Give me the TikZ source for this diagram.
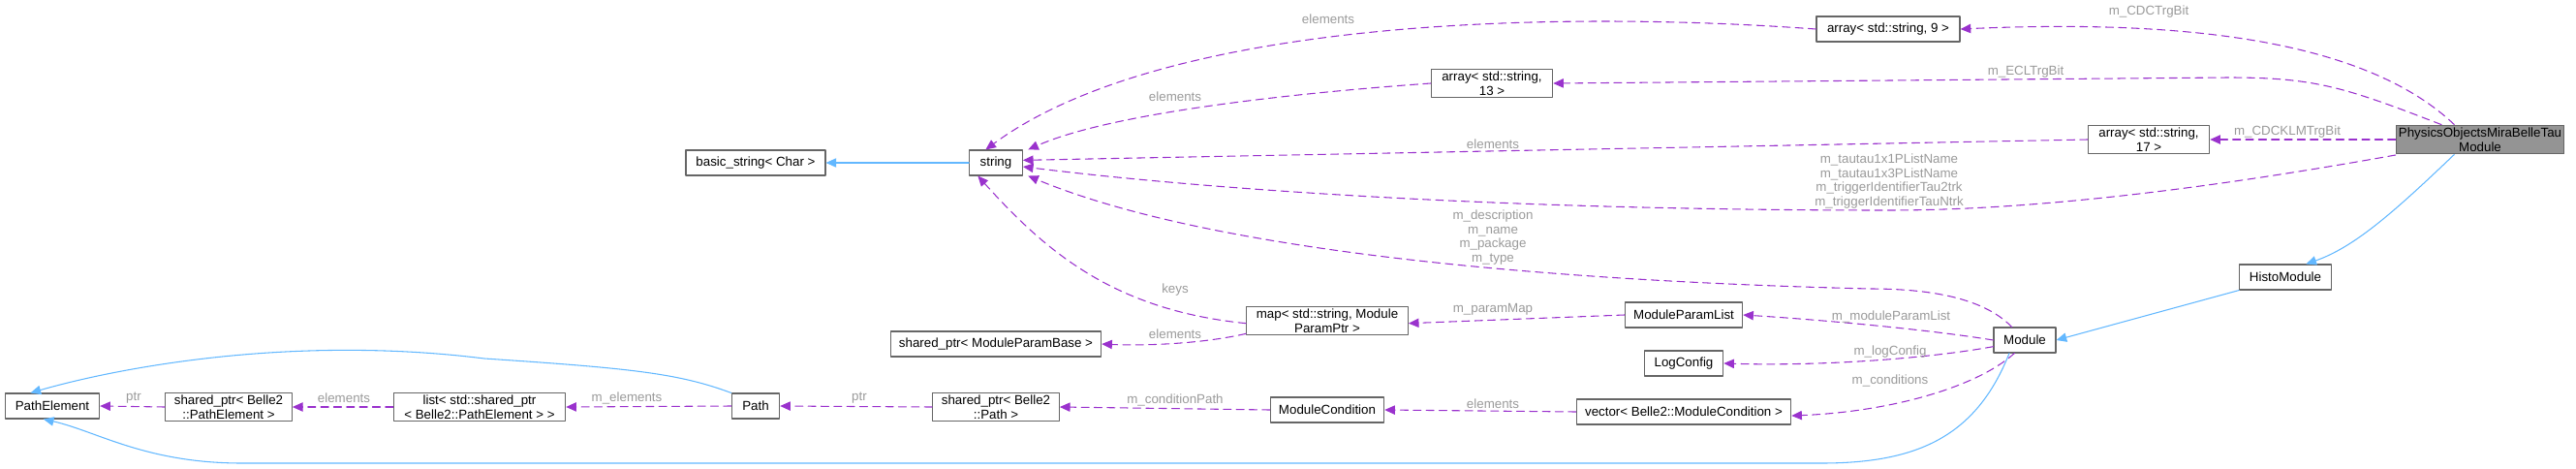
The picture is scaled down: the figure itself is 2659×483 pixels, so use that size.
\documentclass[tikz,border=0pt]{standalone}
\usepackage{fontspec}
\setmainfont{Liberation Sans}
\usetikzlibrary{arrows.meta,positioning}
\definecolor{edgepurple}{HTML}{9A32CD}
\definecolor{edgeblue}{HTML}{63B8FF}
\definecolor{lblgray}{HTML}{9A9A9A}
\definecolor{boxgray}{HTML}{666666}
\tikzset{every picture/.style={line cap=round, line join=round}}
\tikzset{cls/.style={draw=boxgray, fill=white, rectangle, thick, inner sep=2pt,
  minimum height=19.5pt, minimum width=#1, align=center, font=\fontsize{10}{11}\selectfont}}
\tikzset{use/.style={draw=edgepurple, dashed, dash pattern=on 6pt off 4pt, thick,
  -{Triangle[length=8pt,width=7pt]}}}
\tikzset{inh/.style={draw=edgeblue, thick, -{Triangle[length=8pt,width=7pt]}}}
\tikzset{lbl/.style={text=lblgray, font=\fontsize{10}{11}\selectfont, align=center, inner sep=1pt}}
\begin{document}
\begin{tikzpicture}[x=0.75pt, y=-0.75pt]
  \useasboundingbox (0,0) rectangle (2659,483);
  % classes
  \node[cls=72pt, fill=boxgray!70] (phys) at (2560,144) {PhysicsObjectsMiraBelleTau\\Module};
  \node[cls=111pt] (arr9)   at (1949,30)  {array< std::string, 9 >};
  \node[cls=94pt]  (arr13)  at (1540,86)  {array< std::string,\\13 >};
  \node[cls=94pt]  (arr17)  at (2218,144) {array< std::string,\\17 >};
  \node[cls=41pt]  (str)    at (1028,168) {string};
  \node[cls=108pt] (bstr)   at (780,168)  {basic\_string< Char >};
  \node[cls=71pt]  (histo)  at (2359,286) {HistoModule};
  \node[cls=48pt]  (mod)    at (2090,351) {Module};
  \node[cls=91pt]  (mpl)    at (1738,325) {ModuleParamList};
  \node[cls=61pt]  (logc)   at (1738,375) {LogConfig};
  \node[cls=166pt] (vec)    at (1738,425) {vector< Belle2::ModuleCondition >};
  \node[cls=125pt] (map)    at (1370,331) {map< std::string, Module\\ParamPtr >};
  \node[cls=163pt] (spmpb)  at (1028,355) {shared\_ptr< ModuleParamBase >};
  \node[cls=88pt]  (mcond)  at (1370,423) {ModuleCondition};
  \node[cls=98pt]  (sppath) at (1028,420) {shared\_ptr< Belle2\\::Path >};
  \node[cls=37pt]  (path)   at (780,419)  {Path};
  \node[cls=133pt] (lst)    at (495,420)  {list< std::shared\_ptr\\< Belle2::PathElement > >};
  \node[cls=98pt]  (sppe)   at (236,420)  {shared\_ptr< Belle2\\::PathElement >};
  \node[cls=73pt]  (pelem)  at (54,419)   {PathElement};

  % members of PhysicsObjectsMiraBelleTauModule
  \draw[use] ([xshift=-20pt]phys.north) .. controls (2440,40) and (2250,20) .. (arr9.east);
  \draw[use] ([xshift=-30pt]phys.north) .. controls (2420,90) and (2390,80) .. (2300,80)
             -- (arr13.east);
  \draw[use] (phys.west) -- (arr17.west -| arr17.east);
  \draw[use] ([yshift=-12pt]phys.west) .. controls (2250,200) and (2080,217) .. (1950,217)
             .. controls (1500,217) and (1200,190) .. ([yshift=-3pt]str.east);
  \draw[inh] ([xshift=-20pt]phys.south) .. controls (2470,220) and (2430,255) .. ([xshift=16pt]histo.north);
  \draw[inh] (histo.south west) -- (mod.east);

  % string elements
  \draw[use] (arr9.west) .. controls (1600,10) and (1200,20) .. ([xshift=-8pt]str.north);
  \draw[use] (arr13.west) .. controls (1350,95) and (1150,115) .. ([xshift=4pt]str.north east);
  \draw[use] (arr17.west) -- ([yshift=2pt]str.east);
  \draw[inh] (str.west) -- (bstr.east);

  % members of Module
  \draw[use] ([xshift=-10pt]mod.north) .. controls (2050,310) and (2000,298) .. (1930,298)
             .. controls (1600,290) and (1250,260) .. ([xshift=4pt]str.south east);
  \draw[use] (mod.west) .. controls (1990,340) and (1880,330) .. (mpl.east);
  \draw[use] ([yshift=-5pt]mod.west) .. controls (1990,370) and (1880,378) .. (logc.east);
  \draw[use] ([xshift=-8pt]mod.south) .. controls (2040,400) and (1950,425) .. ([yshift=-3pt]vec.east);
  \draw[inh] ([xshift=-12pt]mod.south) .. controls (2040,450) and (1980,478) .. (1880,478)
             -- (250,478) .. controls (150,478) and (100,445) .. ([xshift=30pt]pelem.south west);

  % parameters and conditions
  \draw[use] (mpl.west) -- ([yshift=-2pt]map.east);
  \draw[use] ([yshift=-2pt]map.west) .. controls (1150,320) and (1080,260) .. ([xshift=-14pt]str.south);
  \draw[use] ([yshift=-10pt]map.west) .. controls (1240,355) and (1180,357) .. (spmpb.east);
  \draw[use] (vec.west) -- (mcond.east);
  \draw[use] (mcond.west) -- (sppath.east);
  \draw[use] (sppath.west) -- (path.east);

  % path elements
  \draw[use] (path.west) -- (lst.east);
  \draw[use] (lst.west) -- (sppe.east);
  \draw[use] (sppe.west) -- (pelem.east);
  \draw[inh] (path.north west) .. controls (700,385) and (650,380) .. (500,370)
             .. controls (300,345) and (120,380) .. ([xshift=20pt]pelem.north west);

  % labels
  \node[lbl] (l1)  at (1371,20)  {elements};
  \node[lbl] (l2)  at (1213,100) {elements};
  \node[lbl] (l3)  at (1541,149) {elements};
  \node[lbl] (l4)  at (1950,187) {m\_tautau1x1PListName\\m\_tautau1x3PListName\\m\_triggerIdentifierTau2trk\\m\_triggerIdentifierTauNtrk};
  \node[lbl] (l5)  at (1541,245) {m\_description\\m\_name\\m\_package\\m\_type};
  \node[lbl] (l6)  at (1213,299) {keys};
  \node[lbl] (l7)  at (1213,345) {elements};
  \node[lbl] (l8)  at (1541,319) {m\_paramMap};
  \node[lbl] (l9)  at (1952,327) {m\_moduleParamList};
  \node[lbl] (l10) at (1951,363) {m\_logConfig};
  \node[lbl] (l11) at (1951,393) {m\_conditions};
  \node[lbl] (l12) at (1213,413) {m\_conditionPath};
  \node[lbl] (l13) at (1541,417) {elements};
  \node[lbl] (l14) at (887,411)  {ptr};
  \node[lbl] (l15) at (647,411)  {m\_elements};
  \node[lbl] (l16) at (355,411)  {elements};
  \node[lbl] (l17) at (138,411)  {ptr};
  \node[lbl] (l18) at (2218,12)  {m\_CDCTrgBit};
  \node[lbl] (l19) at (2091,74)  {m\_ECLTrgBit};
  \node[lbl] (l20) at (2361,136) {m\_CDCKLMTrgBit};
\end{tikzpicture}
\end{document}
